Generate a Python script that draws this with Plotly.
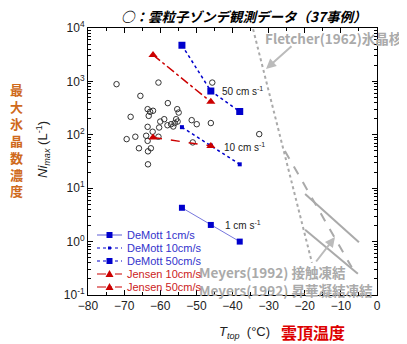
import plotly.graph_objects as go

# ---------------- data ----------------
demott_T = [-54, -46, -38]
demott_1cm = [4.3, 2.05, 1.0]
demott_10cm = [139, 63, 28]
demott_50cm = [4750, 660, 273]

jensen_T = [-62, -46]
jensen_10cm = [89, 62]
jensen_50cm = [3130, 414]

obs_T = [-72.1, -60.5, -65.5, -57.9, -63.5, -62.8, -63.2, -55.3, -54.9, -68.2,
         -58.9, -60.0, -55.6, -55.2, -57.0, -56.4, -51.3, -49.9, -46.0, -63.5,
         -60.3, -62.1, -69.3, -66.9, -63.9, -63.5, -60.5, -51.0, -65.9, -62.6,
         -63.4, -63.4, -45.6, -32.6, -56.0, -62.0, -58.0]
obs_N = [887, 951, 536, 392, 302, 269, 226, 302, 261, 217,
         196, 177, 196, 177, 158, 143, 188, 158, 166, 141,
         137, 114, 83, 92, 96, 77, 92, 72, 56, 56,
         49, 28, 951, 103, 166, 282, 151]

fletcher_T = [-34.3, -18.0]
fletcher_N = [9500, 0.4]

meyers_solid1_T = [-19.9, -5.0]
meyers_solid1_N = [7.8, 0.97]
meyers_solid2_T = [-19.9, -5.3]
meyers_solid2_N = [1.66, 0.25]
meyers_dash_T = [-25.5, -7.0]
meyers_dash_N = [50, 0.33]

x_ticks = [-80, -70, -60, -50, -40, -30, -20, -10, 0]
y_tick_vals = [0.1, 1, 10, 100, 1000, 10000]
y_tick_text = ["10<sup>-1</sup>", "10<sup>0</sup>", "10<sup>1</sup>",
               "10<sup>2</sup>", "10<sup>3</sup>", "10<sup>4</sup>"]

legend_labels = ["DeMott 1cm/s", "DeMott 10cm/s", "DeMott 50cm/s",
                 "Jensen 10cm/s", "Jensen 50cm/s"]

# ---------------- styles ----------------
BLUE = "#0000cc"
BLUE_TXT = "#3333cc"
LBLUE = "#7777dd"
RED = "#cc0000"
GRAY = "#aaaaaa"
ORANGE = "#cf6a1c"
FONT = "Liberation Sans, Arial, sans-serif"
CJK = "Noto Sans CJK JP, sans-serif"

# target window and plot-area edges (window pixels)
WIN_W, WIN_H = 407, 344
OFF = 8  # default page body margin
PL, PR, PT, PB = 88, 377, 28, 295
W, H = WIN_W - OFF, WIN_H - OFF


def fx(px):
    return (px - PL) / (PR - PL)


def fy(py):
    return (PB - py) / (PB - PT)


def text_ann(px, py, text, font, xanchor="center", **kw):
    d = dict(xref="paper", yref="paper", x=fx(px), y=fy(py), text=text,
             showarrow=False, xanchor=xanchor, yanchor="middle", font=font)
    d.update(kw)
    return d


fig = go.Figure()

# reference lines
fig.add_trace(go.Scatter(x=fletcher_T, y=fletcher_N, mode="lines",
                         line=dict(color=GRAY, width=2, dash="dot"), showlegend=False))
fig.add_trace(go.Scatter(x=meyers_solid1_T, y=meyers_solid1_N, mode="lines",
                         line=dict(color=GRAY, width=2), showlegend=False))
fig.add_trace(go.Scatter(x=meyers_solid2_T, y=meyers_solid2_N, mode="lines",
                         line=dict(color=GRAY, width=2), showlegend=False))
fig.add_trace(go.Scatter(x=meyers_dash_T, y=meyers_dash_N, mode="lines",
                         line=dict(color=GRAY, width=2, dash="dash"), showlegend=False))

# observations
fig.add_trace(go.Scatter(x=obs_T, y=obs_N, mode="markers",
                         marker=dict(symbol="circle-open", size=5.5, color="#333333",
                                     line=dict(width=1)),
                         showlegend=False))

# models
fig.add_trace(go.Scatter(x=demott_T, y=demott_1cm, mode="lines+markers",
                         line=dict(color=LBLUE, width=1),
                         marker=dict(symbol="square", size=6, color=BLUE), showlegend=False))
fig.add_trace(go.Scatter(x=demott_T, y=demott_10cm, mode="lines+markers",
                         line=dict(color=BLUE, width=1.5, dash="dot"),
                         marker=dict(symbol="square", size=4, color=BLUE), showlegend=False))
fig.add_trace(go.Scatter(x=demott_T, y=demott_50cm, mode="lines+markers",
                         line=dict(color=BLUE, width=1.5, dash="dot"),
                         marker=dict(symbol="square", size=7, color=BLUE), showlegend=False))
fig.add_trace(go.Scatter(x=jensen_T, y=jensen_10cm, mode="lines+markers",
                         line=dict(color=RED, width=1.5, dash="dash"),
                         marker=dict(symbol="triangle-up", size=8, color=RED), showlegend=False))
fig.add_trace(go.Scatter(x=jensen_T, y=jensen_50cm, mode="lines+markers",
                         line=dict(color=RED, width=1.5, dash="dashdot"),
                         marker=dict(symbol="triangle-up", size=8, color=RED), showlegend=False))

annotations = []
shapes = []

# title
annotations.append(text_ann(243, 16, "<b><i>○：雲粒子ゾンデ観測データ（37事例）</i></b>",
                            dict(family=CJK, size=13.5, color="black")))

# vertical Japanese y label
ylab = "最大氷晶数濃度"
annotations.append(text_ann(16, 140, "<br>".join("<b>" + c + "</b>" for c in ylab),
                            dict(family=CJK, size=13, color=ORANGE)))

# Ni_max label
annotations.append(text_ann(43, 150, "<i>Ni</i><sub><i>max</i></sub> (L<sup>-1</sup>)",
                            dict(family=FONT, size=13, color="#222222"), textangle=-90))

# x title
annotations.append(text_ann(244, 332, "<i>T</i><sub><i>top</i></sub>  (°C)",
                            dict(family=FONT, size=13, color="#222222")))
annotations.append(text_ann(313, 332, "<b>雲頂温度</b>",
                            dict(family=CJK, size=16, color="#dd0000")))

# rate labels
for txt, px, py in [("50 cm s<sup>-1</sup>", 220, 91), ("10 cm s<sup>-1</sup>", 222, 147),
                    ("1 cm s<sup>-1</sup>", 223, 225)]:
    annotations.append(text_ann(px, py, txt, dict(family=FONT, size=10, color="#222222"),
                                xanchor="left"))

# Fletcher label and arrow
annotations.append(text_ann(263, 38, "<b>Fletcher(1962)氷晶核</b>",
                            dict(family=CJK, size=13.5, color=GRAY), xanchor="left"))
annotations.append(dict(xref="paper", yref="paper", x=fx(266), y=fy(69),
                        ax=293 - 266, ay=45 - 69,
                        text="", showarrow=True, arrowhead=2, arrowsize=1, arrowwidth=2,
                        arrowcolor="#bbbbbb"))

# Meyers labels and arrow
annotations.append(dict(xref="paper", yref="paper", x=fx(335), y=fy(237),
                        ax=315 - 335, ay=263 - 237,
                        text="", showarrow=True, arrowhead=2, arrowsize=1, arrowwidth=2,
                        arrowcolor="#bbbbbb"))
annotations.append(text_ann(197, 280.5,
                            "<b>Meyers(1992) 接触凍結</b><br><b>Meyers(1992) 昇華凝結凍結</b>",
                            dict(family=CJK, size=13.5, color=GRAY), xanchor="left",
                            align="left"))

# manual legend
leg_styles = [(LBLUE, "solid", "sq", 6, BLUE_TXT),
              (BLUE, "dot", "sq", 3, BLUE_TXT),
              (BLUE, "dot", "sq", 6, BLUE_TXT),
              (RED, "dash", "tri", 7, "#cc2222"),
              (RED, "dashdot", "tri", 7, "#cc2222")]
for i, (lab, (lc, dash, mk, ms, tc)) in enumerate(zip(legend_labels, leg_styles)):
    py = 235 + 13 * i
    shapes.append(dict(type="line", xref="paper", yref="paper",
                       x0=fx(97), x1=fx(122), y0=fy(py), y1=fy(py),
                       line=dict(color=lc, width=1.2, dash=dash)))
    cx = 109.5
    if mk == "sq":
        h = ms / 2
        shapes.append(dict(type="rect", xref="paper", yref="paper",
                           x0=fx(cx - h), x1=fx(cx + h), y0=fy(py + h), y1=fy(py - h),
                           fillcolor=BLUE, line=dict(width=0)))
    else:
        path = "M {:.5f},{:.5f} L {:.5f},{:.5f} L {:.5f},{:.5f} Z".format(
            fx(cx), fy(py - 4), fx(cx + 4), fy(py + 3), fx(cx - 4), fy(py + 3))
        shapes.append(dict(type="path", xref="paper", yref="paper", path=path,
                           fillcolor=RED, line=dict(width=0)))
    annotations.append(text_ann(125, py, lab, dict(family=FONT, size=11, color=tc),
                                xanchor="left"))

fig.update_layout(
    width=W, height=H,
    margin=dict(l=PL - OFF, r=WIN_W - PR, t=PT - OFF, b=WIN_H - PB, pad=0),
    paper_bgcolor="white", plot_bgcolor="white",
    showlegend=False,
    annotations=annotations, shapes=shapes,
    font=dict(family=FONT, size=12, color="#222222"),
)

fig.update_xaxes(range=[-80, 0], tickvals=x_ticks, ticks="inside", ticklen=5,
                 tickcolor="black", showline=True, linecolor="black", linewidth=1,
                 mirror="allticks", showgrid=False, zeroline=False,
                 tickfont=dict(family=FONT, size=12, color="#222222"),
                 minor=dict(ticks="inside", ticklen=3, dtick=5, tickcolor="black"))
fig.update_yaxes(type="log", range=[-1, 4], tickvals=y_tick_vals, ticktext=y_tick_text,
                 ticks="inside", ticklen=5, tickcolor="black", showline=True,
                 linecolor="black", linewidth=1, mirror="allticks", showgrid=False,
                 zeroline=False, tickfont=dict(family=FONT, size=12, color="#222222"),
                 minor=dict(ticks="inside", ticklen=3, dtick="D1", tickcolor="black"))

fig.write_html("out.html")
